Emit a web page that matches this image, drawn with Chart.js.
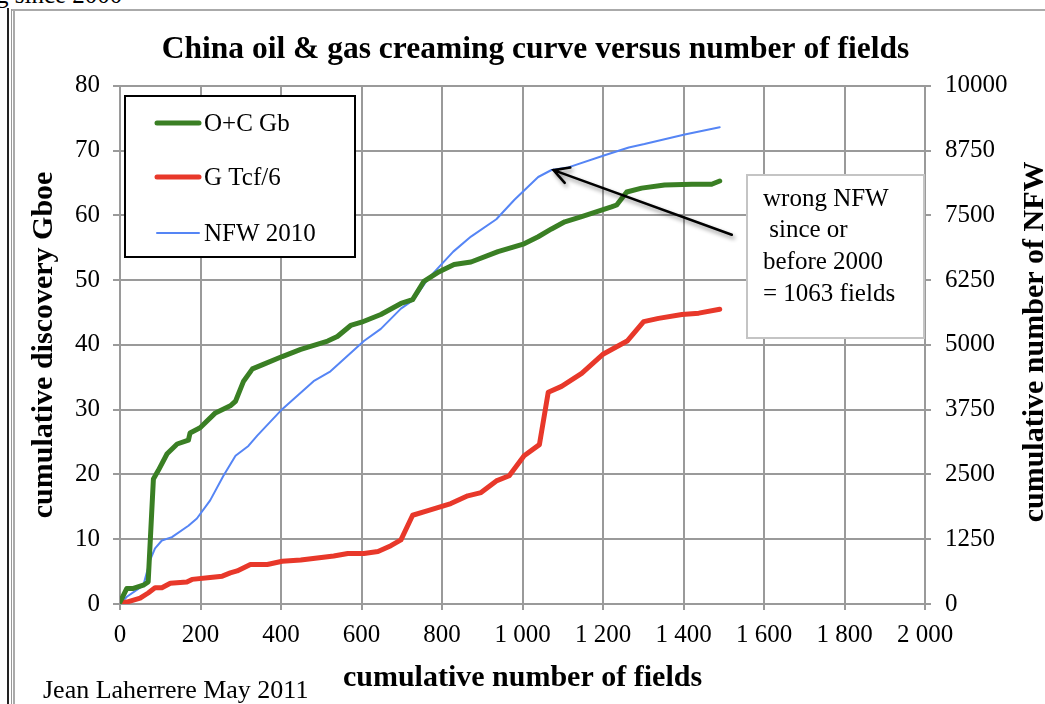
<!DOCTYPE html>
<html>
<head>
<meta charset="utf-8">
<script src="https://cdn.jsdelivr.net/npm/chart.js@4/dist/chart.umd.min.js"></script>
<style>
  html, body { margin: 0; padding: 0; background: #fff; overflow: hidden; }
  #wrap { position: relative; width: 1045px; height: 704px; }
  #c { position: absolute; left: 0; top: 0; }
  .frame { position: absolute; }
  #edgeDark { left: 7px; top: 8px; width: 2px; bottom: 0; background: #222; }
  #edgeGrayV { left: 11px; top: 9px; width: 4px; bottom: 0; border-left: 1px solid #999; border-right: 2px solid #aaa; box-sizing: border-box; }
  #edgeGrayH { left: 12px; top: 9px; right: 0; height: 2px; background: #aaa; }
  #frag { position: absolute; left: -4px; top: -18px; font: 25px "Liberation Serif", serif; color: #000; white-space: nowrap; line-height: 25px; }
  #credit { position: absolute; left: 43px; top: 676px; font: 26px "Liberation Serif", serif; color: #000; white-space: nowrap; line-height: 28px; }
</style>
</head>
<body>
<div id="wrap">
  <div id="frag">g since 2000</div>
  <div class="frame" id="edgeDark"></div>
  <div class="frame" id="edgeGrayV"></div>
  <div class="frame" id="edgeGrayH"></div>
  <canvas id="c" width="1045" height="704"></canvas>
  <div id="credit">Jean Laherrere May 2011</div>
</div>
<script>
// Oil + condensate discoveries (Gb) against cumulative field count
const oilFields = [0, 17, 33, 58, 70, 83, 95, 117, 142, 170, 174, 199, 237, 274, 287, 307, 329, 356, 403, 449, 516, 540, 573, 600, 648, 698, 727, 755, 793, 830, 872, 939, 1004, 1039, 1072, 1105, 1147, 1221, 1234, 1259, 1296, 1353, 1421, 1470, 1490];
const oilGb = [0.3, 2.4, 2.4, 2.9, 3.4, 19.3, 20.6, 23.2, 24.7, 25.3, 26.4, 27.2, 29.5, 30.6, 31.3, 34.4, 36.3, 37.0, 38.2, 39.3, 40.6, 41.3, 43.0, 43.5, 44.7, 46.4, 47.0, 49.8, 51.3, 52.4, 52.8, 54.4, 55.6, 56.7, 57.9, 59.0, 59.8, 61.3, 61.6, 63.6, 64.2, 64.7, 64.8, 64.8, 65.3];

// Gas discoveries (Tcf / 6, i.e. Gboe)
const gasFields = [0, 17, 50, 70, 87, 104, 125, 166, 179, 224, 254, 274, 291, 324, 366, 403, 449, 531, 566, 606, 641, 673, 698, 727, 765, 822, 864, 897, 935, 967, 1004, 1042, 1064, 1097, 1147, 1201, 1260, 1301, 1338, 1396, 1438, 1490];
const gasTcf6 = [0.15, 0.3, 0.9, 1.7, 2.5, 2.5, 3.2, 3.4, 3.8, 4.1, 4.3, 4.8, 5.1, 6.1, 6.1, 6.6, 6.8, 7.4, 7.8, 7.8, 8.1, 9.0, 9.9, 13.7, 14.4, 15.5, 16.7, 17.2, 19.0, 19.8, 22.9, 24.6, 32.7, 33.6, 35.6, 38.6, 40.6, 43.6, 44.1, 44.7, 44.9, 45.5];

// New field wildcats (2010 count) on the right-hand axis
const nfwFields = [0, 17, 58, 75, 87, 104, 129, 170, 191, 224, 257, 287, 319, 341, 403, 481, 523, 606, 648, 698, 730, 765, 828, 872, 935, 980, 1039, 1072, 1114, 1204, 1264, 1303, 1403, 1490];
const nfwCount = [0, 140, 360, 850, 1075, 1225, 1290, 1510, 1650, 2000, 2475, 2860, 3050, 3250, 3760, 4300, 4490, 5075, 5310, 5700, 5875, 6275, 6800, 7090, 7425, 7800, 8240, 8375, 8425, 8660, 8810, 8875, 9060, 9200];

const seriesNames = ['O+C Gb', 'G Tcf/6', 'NFW 2010'];
const noteLines = ['wrong NFW', ' since or', 'before 2000', '= 1063 fields'];
const arrowFrom = { x: 1520, y: 7125 };
const arrowTo = { x: 1077, y: 8372 };

const SERIF = '"Liberation Serif", "Times New Roman", serif';
const GRID = '#9a9a9a';

const pairs = (xs, ys) => xs.map((x, i) => ({ x, y: ys[i] }));
const spaced = v => v >= 1000 ? Math.floor(v / 1000) + ' ' + String(v % 1000).padStart(3, '0') : String(v);

// Boxed legend in the upper-left of the plot
const boxLegend = {
  id: 'boxLegend',
  afterDatasetsDraw(chart) {
    const ctx = chart.ctx;
    const x0 = 125, y0 = 96, w = 230, h = 161;
    ctx.save();
    ctx.fillStyle = '#fff';
    ctx.fillRect(x0, y0, w, h);
    ctx.strokeStyle = '#000';
    ctx.lineWidth = 2;
    ctx.strokeRect(x0, y0, w, h);
    const rows = [123, 177, 233];
    chart.data.datasets.forEach((ds, i) => {
      ctx.beginPath();
      ctx.strokeStyle = ds.borderColor;
      ctx.lineWidth = ds.borderWidth;
      ctx.lineCap = 'round';
      ctx.moveTo(157, rows[i]);
      ctx.lineTo(199, rows[i]);
      ctx.stroke();
      ctx.fillStyle = '#000';
      ctx.font = '25px ' + SERIF;
      ctx.textAlign = 'left';
      ctx.textBaseline = 'middle';
      ctx.fillText(ds.label, 204, rows[i] + 1);
    });
    ctx.restore();
  }
};

// Callout box with an arrow to the NFW curve
const callout = {
  id: 'callout',
  afterDatasetsDraw(chart) {
    const ctx = chart.ctx;
    const xs = chart.scales.x, ys = chart.scales.y2;
    const ax = xs.getPixelForValue(arrowFrom.x), ay = ys.getPixelForValue(arrowFrom.y);
    const bx = xs.getPixelForValue(arrowTo.x), by = ys.getPixelForValue(arrowTo.y);
    ctx.save();
    ctx.shadowColor = 'rgba(0,0,0,0.45)';
    ctx.shadowBlur = 4;
    ctx.shadowOffsetX = 2;
    ctx.shadowOffsetY = 3;
    ctx.strokeStyle = '#000';
    ctx.lineWidth = 2.5;
    ctx.lineCap = 'round';
    ctx.beginPath();
    ctx.moveTo(ax, ay);
    ctx.lineTo(bx, by);
    const ang = Math.atan2(by - ay, bx - ax);
    const head = 17;
    ctx.moveTo(bx - head * Math.cos(ang - 0.5), by - head * Math.sin(ang - 0.5));
    ctx.lineTo(bx, by);
    ctx.lineTo(bx - head * Math.cos(ang + 0.5), by - head * Math.sin(ang + 0.5));
    ctx.stroke();
    ctx.restore();

    ctx.save();
    const x0 = 747, y0 = 175, w = 177, h = 163;
    ctx.fillStyle = '#fff';
    ctx.fillRect(x0, y0, w, h);
    ctx.strokeStyle = '#c4c4c4';
    ctx.lineWidth = 2;
    ctx.strokeRect(x0, y0, w, h);
    ctx.fillStyle = '#000';
    ctx.font = '25px ' + SERIF;
    ctx.textAlign = 'left';
    ctx.textBaseline = 'middle';
    noteLines.forEach((t, i) => ctx.fillText(t, 763, 199 + i * 31.7));
    ctx.restore();
  }
};

// Right-hand axis title, reading bottom to top
const rightTitle = {
  id: 'rightTitle',
  afterDraw(chart) {
    const ctx = chart.ctx;
    const a = chart.chartArea;
    ctx.save();
    ctx.translate(1043, (a.top + a.bottom) / 2 - 3);
    ctx.rotate(-Math.PI / 2);
    ctx.fillStyle = '#000';
    ctx.font = 'bold 30px ' + SERIF;
    ctx.textAlign = 'center';
    ctx.textBaseline = 'alphabetic';
    ctx.fillText('cumulative number of NFW', 0, 0);
    ctx.restore();
  }
};

new Chart(document.getElementById('c'), {
  type: 'line',
  data: {
    datasets: [
      { label: seriesNames[0], data: pairs(oilFields, oilGb), yAxisID: 'y', borderColor: '#3a7f24', borderWidth: 5 },
      { label: seriesNames[1], data: pairs(gasFields, gasTcf6), yAxisID: 'y', borderColor: '#e8382a', borderWidth: 5 },
      { label: seriesNames[2], data: pairs(nfwFields, nfwCount), yAxisID: 'y2', borderColor: '#5585f5', borderWidth: 2 }
    ]
  },
  options: {
    responsive: false,
    animation: false,
    devicePixelRatio: 1,
    events: [],
    elements: {
      point: { radius: 0 },
      line: { tension: 0, borderJoinStyle: 'round', borderCapStyle: 'round', fill: false }
    },
    layout: { padding: { left: 26, right: 0, top: 0, bottom: 0 } },
    plugins: {
      legend: { display: false },
      tooltip: { enabled: false },
      title: {
        display: true,
        text: 'China oil & gas creaming curve versus number of fields',
        color: '#000',
        font: { family: SERIF, size: 31.5, weight: 'bold' },
        padding: { top: 31, bottom: 17 }
      }
    },
    scales: {
      x: {
        type: 'linear',
        min: 0, max: 2000,
        ticks: { stepSize: 200, color: '#000', font: { family: SERIF, size: 25 }, padding: 10, callback: v => spaced(v), maxRotation: 0 },
        grid: { color: GRID, lineWidth: 2, tickLength: 6 },
        border: { color: GRID, width: 2 },
        title: { display: true, text: 'cumulative number of fields', color: '#000', font: { family: SERIF, size: 30, weight: 'bold' }, padding: { top: 0, bottom: 8 } }
      },
      y: {
        position: 'left',
        min: 0, max: 80,
        ticks: { stepSize: 10, color: '#000', font: { family: SERIF, size: 25 }, padding: 13 },
        grid: { color: GRID, lineWidth: 2, tickLength: 7 },
        border: { color: GRID, width: 2 },
        title: { display: true, text: 'cumulative discovery Gboe', color: '#000', font: { family: SERIF, size: 30, weight: 'bold' }, padding: 0 },
        afterFit: s => { s.width = 94; }
      },
      y2: {
        position: 'right',
        min: 0, max: 10000,
        ticks: { stepSize: 1250, color: '#000', font: { family: SERIF, size: 25 }, padding: 14, callback: v => String(v) },
        grid: { drawOnChartArea: false, color: GRID, lineWidth: 2, tickLength: 6 },
        border: { color: GRID, width: 2 },
        afterFit: s => { s.width = 120; }
      }
    }
  },
  plugins: [boxLegend, callout, rightTitle]
});
</script>
</body>
</html>
